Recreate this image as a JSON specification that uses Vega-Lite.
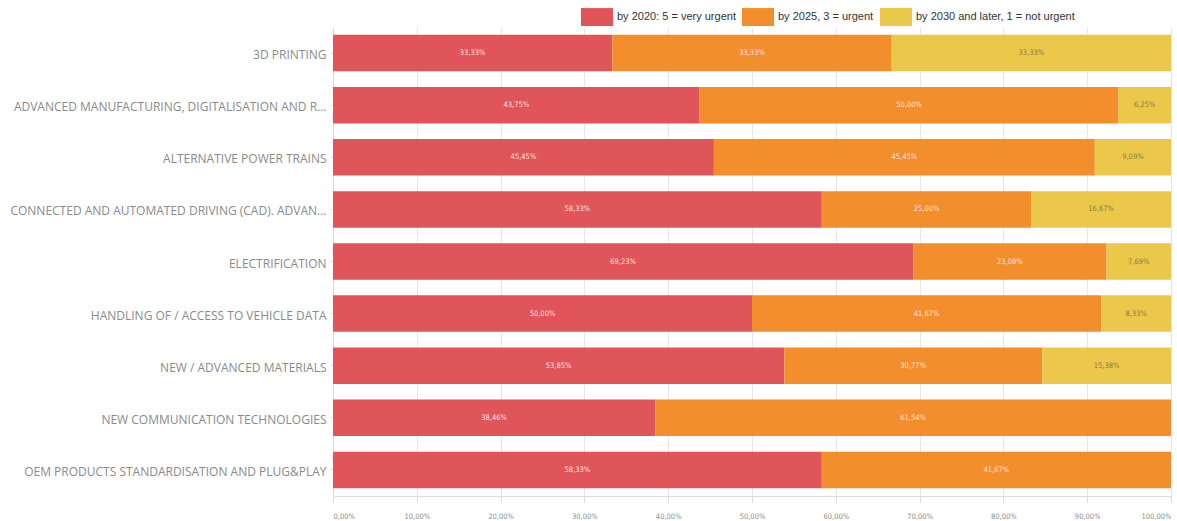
{
  "$schema": "https://vega.github.io/schema/vega-lite/v6.json",
  "width": 838,
  "height": 469,
  "autosize": "none",
  "padding": {"left": 333, "top": 27, "right": 6, "bottom": 25},
  "background": "white",
  "data": {
    "values": [
      {"category": "3D PRINTING", "urgency": "by 2020: 5 = very urgent", "value": 33.33},
      {"category": "3D PRINTING", "urgency": "by 2025, 3 = urgent", "value": 33.33},
      {"category": "3D PRINTING", "urgency": "by 2030 and later, 1 = not urgent", "value": 33.33},
      {"category": "ADVANCED MANUFACTURING, DIGITALISATION AND R...", "urgency": "by 2020: 5 = very urgent", "value": 43.75},
      {"category": "ADVANCED MANUFACTURING, DIGITALISATION AND R...", "urgency": "by 2025, 3 = urgent", "value": 50.0},
      {"category": "ADVANCED MANUFACTURING, DIGITALISATION AND R...", "urgency": "by 2030 and later, 1 = not urgent", "value": 6.25},
      {"category": "ALTERNATIVE POWER TRAINS", "urgency": "by 2020: 5 = very urgent", "value": 45.45},
      {"category": "ALTERNATIVE POWER TRAINS", "urgency": "by 2025, 3 = urgent", "value": 45.45},
      {"category": "ALTERNATIVE POWER TRAINS", "urgency": "by 2030 and later, 1 = not urgent", "value": 9.09},
      {"category": "CONNECTED AND AUTOMATED DRIVING (CAD). ADVAN...", "urgency": "by 2020: 5 = very urgent", "value": 58.33},
      {"category": "CONNECTED AND AUTOMATED DRIVING (CAD). ADVAN...", "urgency": "by 2025, 3 = urgent", "value": 25.0},
      {"category": "CONNECTED AND AUTOMATED DRIVING (CAD). ADVAN...", "urgency": "by 2030 and later, 1 = not urgent", "value": 16.67},
      {"category": "ELECTRIFICATION", "urgency": "by 2020: 5 = very urgent", "value": 69.23},
      {"category": "ELECTRIFICATION", "urgency": "by 2025, 3 = urgent", "value": 23.08},
      {"category": "ELECTRIFICATION", "urgency": "by 2030 and later, 1 = not urgent", "value": 7.69},
      {"category": "HANDLING OF / ACCESS TO VEHICLE DATA", "urgency": "by 2020: 5 = very urgent", "value": 50.0},
      {"category": "HANDLING OF / ACCESS TO VEHICLE DATA", "urgency": "by 2025, 3 = urgent", "value": 41.67},
      {"category": "HANDLING OF / ACCESS TO VEHICLE DATA", "urgency": "by 2030 and later, 1 = not urgent", "value": 8.33},
      {"category": "NEW / ADVANCED MATERIALS", "urgency": "by 2020: 5 = very urgent", "value": 53.85},
      {"category": "NEW / ADVANCED MATERIALS", "urgency": "by 2025, 3 = urgent", "value": 30.77},
      {"category": "NEW / ADVANCED MATERIALS", "urgency": "by 2030 and later, 1 = not urgent", "value": 15.38},
      {"category": "NEW COMMUNICATION TECHNOLOGIES", "urgency": "by 2020: 5 = very urgent", "value": 38.46},
      {"category": "NEW COMMUNICATION TECHNOLOGIES", "urgency": "by 2025, 3 = urgent", "value": 61.54},
      {"category": "OEM PRODUCTS STANDARDISATION AND PLUG&PLAY", "urgency": "by 2020: 5 = very urgent", "value": 58.33},
      {"category": "OEM PRODUCTS STANDARDISATION AND PLUG&PLAY", "urgency": "by 2025, 3 = urgent", "value": 41.67}
    ]
  },
  "transform": [
    {"stack": "value", "groupby": ["category"], "sort": [{"field": "urgency"}], "offset": "normalize", "as": ["v0", "v1"]},
    {"calculate": "(datum.v0 + datum.v1) / 2", "as": "mid"},
    {"calculate": "replace(format(datum.value, '.2f'), '.', ',') + '%'", "as": "label"}
  ],
  "encoding": {
    "y": {
      "field": "category",
      "type": "nominal",
      "sort": null,
      "title": null,
      "scale": {"paddingInner": 0.3, "paddingOuter": 0.15},
      "axis": {
        "labelFont": "Open Sans",
        "labelFontSize": 12,
        "labelColor": "#8a8a8a",
        "labelLimit": 330,
        "labelPadding": 4,
        "labelOffset": 2,
        "tickSize": 3,
        "tickColor": "#d9d9d9",
        "domainColor": "#d9d9d9",
        "grid": false
      }
    }
  },
  "layer": [
    {
      "mark": {"type": "bar"},
      "encoding": {
        "x": {
          "field": "v0",
          "type": "quantitative",
          "scale": {"domain": [0, 1], "nice": false},
          "title": null,
          "axis": {
            "values": [0, 0.1, 0.2, 0.3, 0.4, 0.5, 0.6, 0.7, 0.8, 0.9, 1.0],
            "labelExpr": "replace(format(datum.value * 100, '.2f'), '.', ',') + '%'",
            "labelFont": "DejaVu Sans Condensed",
            "labelFontSize": 7.5,
            "labelColor": "#8c8c8c",
            "labelPadding": 10,
            "tickSize": 6,
            "tickColor": "#dcdcdc",
            "domainColor": "#dcdcdc",
            "gridColor": "#e6e6e6",
            "gridWidth": 1
          }
        },
        "x2": {"field": "v1"},
        "color": {
          "field": "urgency",
          "type": "nominal",
          "scale": {
            "domain": ["by 2020: 5 = very urgent", "by 2025, 3 = urgent", "by 2030 and later, 1 = not urgent"],
            "range": ["#E0555A", "#F28E2C", "#EBC84A"]
          },
          "legend": {
            "orient": "none",
            "legendX": 248,
            "legendY": -26,
            "direction": "horizontal",
            "title": null,
            "symbolType": "M-1,-0.56H1V0.56H-1Z",
            "symbolSize": 1024,
            "symbolStrokeWidth": 0,
            "symbolOpacity": 1,
            "labelFont": "Liberation Sans",
            "labelFontSize": 11,
            "labelColor": "#333333",
            "labelOffset": 4,
            "columnPadding": 6,
            "labelLimit": 300
          }
        }
      }
    },
    {
      "mark": {"type": "text", "font": "DejaVu Sans Condensed", "fontSize": 7.5, "baseline": "middle", "align": "center"},
      "encoding": {
        "x": {"field": "mid", "type": "quantitative"},
        "text": {"field": "label", "type": "nominal"},
        "color": {
          "condition": {"test": "datum.urgency === 'by 2030 and later, 1 = not urgent'", "value": "#8a7a45"},
          "value": "#f6e0e0"
        }
      }
    }
  ],
  "config": {
    "view": {"stroke": null}
  }
}
